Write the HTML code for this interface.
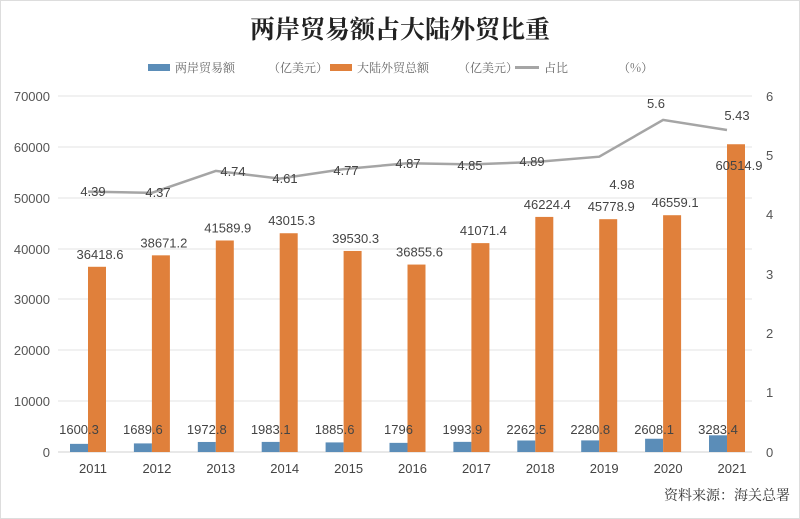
<!DOCTYPE html>
<html><head><meta charset="utf-8"><style>
body{margin:0;background:#fff;}
svg{display:block;font-family:"Liberation Sans","Noto Sans CJK SC",sans-serif;}
</style></head><body>
<svg width="800" height="519" viewBox="0 0 800 519" xmlns="http://www.w3.org/2000/svg">
<rect width="800" height="519" fill="#fff"/>
<rect x="0.5" y="0.5" width="799" height="518" fill="none" stroke="#ddd"/>
<text x="400" y="38" text-anchor="middle" font-family="'Noto Serif CJK SC',serif" font-weight="bold" font-size="25" fill="#222">两岸贸易额占大陆外贸比重</text>
<g font-family="'Noto Serif CJK SC',serif" font-size="12" fill="#666">
<rect x="148" y="64" width="22" height="7" fill="#5b8db8"/><text x="175" y="72">两岸贸易额</text><text x="268" y="72">（亿美元）</text>
<rect x="330" y="64" width="22" height="7" fill="#e0803b"/><text x="357" y="72">大陆外贸总额</text><text x="458" y="72">（亿美元）</text>
<rect x="515" y="66" width="24" height="3" fill="#a5a5a5"/><text x="544" y="72">占比</text><text x="618" y="72">（%）</text>
</g>
<g stroke="#e3e3e3" stroke-width="1">
<line x1="58" x2="752" y1="96" y2="96"/><line x1="58" x2="752" y1="147" y2="147"/><line x1="58" x2="752" y1="198" y2="198"/><line x1="58" x2="752" y1="249" y2="249"/><line x1="58" x2="752" y1="299" y2="299"/><line x1="58" x2="752" y1="350" y2="350"/><line x1="58" x2="752" y1="401" y2="401"/><line x1="58" x2="752" y1="452" y2="452" stroke="#d0d0d0"/>
</g>
<g font-size="13" fill="#555" text-anchor="end">
<text x="50" y="101">70000</text><text x="50" y="152">60000</text><text x="50" y="203">50000</text><text x="50" y="254">40000</text><text x="50" y="304">30000</text><text x="50" y="355">20000</text><text x="50" y="406">10000</text><text x="50" y="457">0</text>
</g>
<g font-size="13" fill="#555">
<text x="766" y="101">6</text><text x="766" y="160">5</text><text x="766" y="219">4</text><text x="766" y="279">3</text><text x="766" y="338">2</text><text x="766" y="397">1</text><text x="766" y="457">0</text>
</g>
<g id="bars"></g>
<polyline id="ln" fill="none" stroke="#a5a5a5" stroke-width="2.5"/>
<g id="labels" font-size="13" fill="#444" text-anchor="middle"></g>
<text x="790" y="500" text-anchor="end" font-family="'Noto Serif CJK SC',serif" font-size="14" fill="#333">资料来源：海关总署</text>
<script>
var yrs=[2011,2012,2013,2014,2015,2016,2017,2018,2019,2020,2021];
var bl=[1600.3,1689.6,1972.8,1983.1,1885.6,1796,1993.9,2262.5,2280.8,2608.1,3283.4];
var or=[36418.6,38671.2,41589.9,43015.3,39530.3,36855.6,41071.4,46224.4,45778.9,46559.1,60514.9];
var pc=[4.39,4.37,4.74,4.61,4.77,4.87,4.85,4.89,4.98,5.6,5.43];
var lp=[[93,196],[158,197],[233,176],[285,183],[346,175],[408,168],[470,170],[532,166],[622,189],[656,108],[737,120]];
var ns="http://www.w3.org/2000/svg",B=document.getElementById('bars'),L=document.getElementById('labels');
function el(t,a,p,txt){var e=document.createElementNS(ns,t);for(var k in a)e.setAttribute(k,a[k]);if(txt!=null)e.textContent=txt;p.appendChild(e);}
var pts=[];
for(var i=0;i<11;i++){var c=88+i*63.9;
var hb=bl[i]*356/70000,ho=or[i]*356/70000;
el('rect',{x:c-18,y:452-hb,width:18,height:hb,fill:'#5b8db8'},B);
el('rect',{x:c,y:452-ho,width:18,height:ho,fill:'#e0803b'},B);
el('text',{x:c-9,y:434},L,String(bl[i]));
el('text',{x:c+12,y:(i==10?170:452-ho-8)},L,String(or[i]));
el('text',{x:c+5,y:473,'font-size':13},L,String(yrs[i]));
var py=452-pc[i]*59.3;pts.push(c+','+py);
el('text',{x:lp[i][0],y:lp[i][1]},L,String(pc[i]));
}
document.getElementById('ln').setAttribute('points',pts.join(' '));
</script>
</svg>
</body></html>
